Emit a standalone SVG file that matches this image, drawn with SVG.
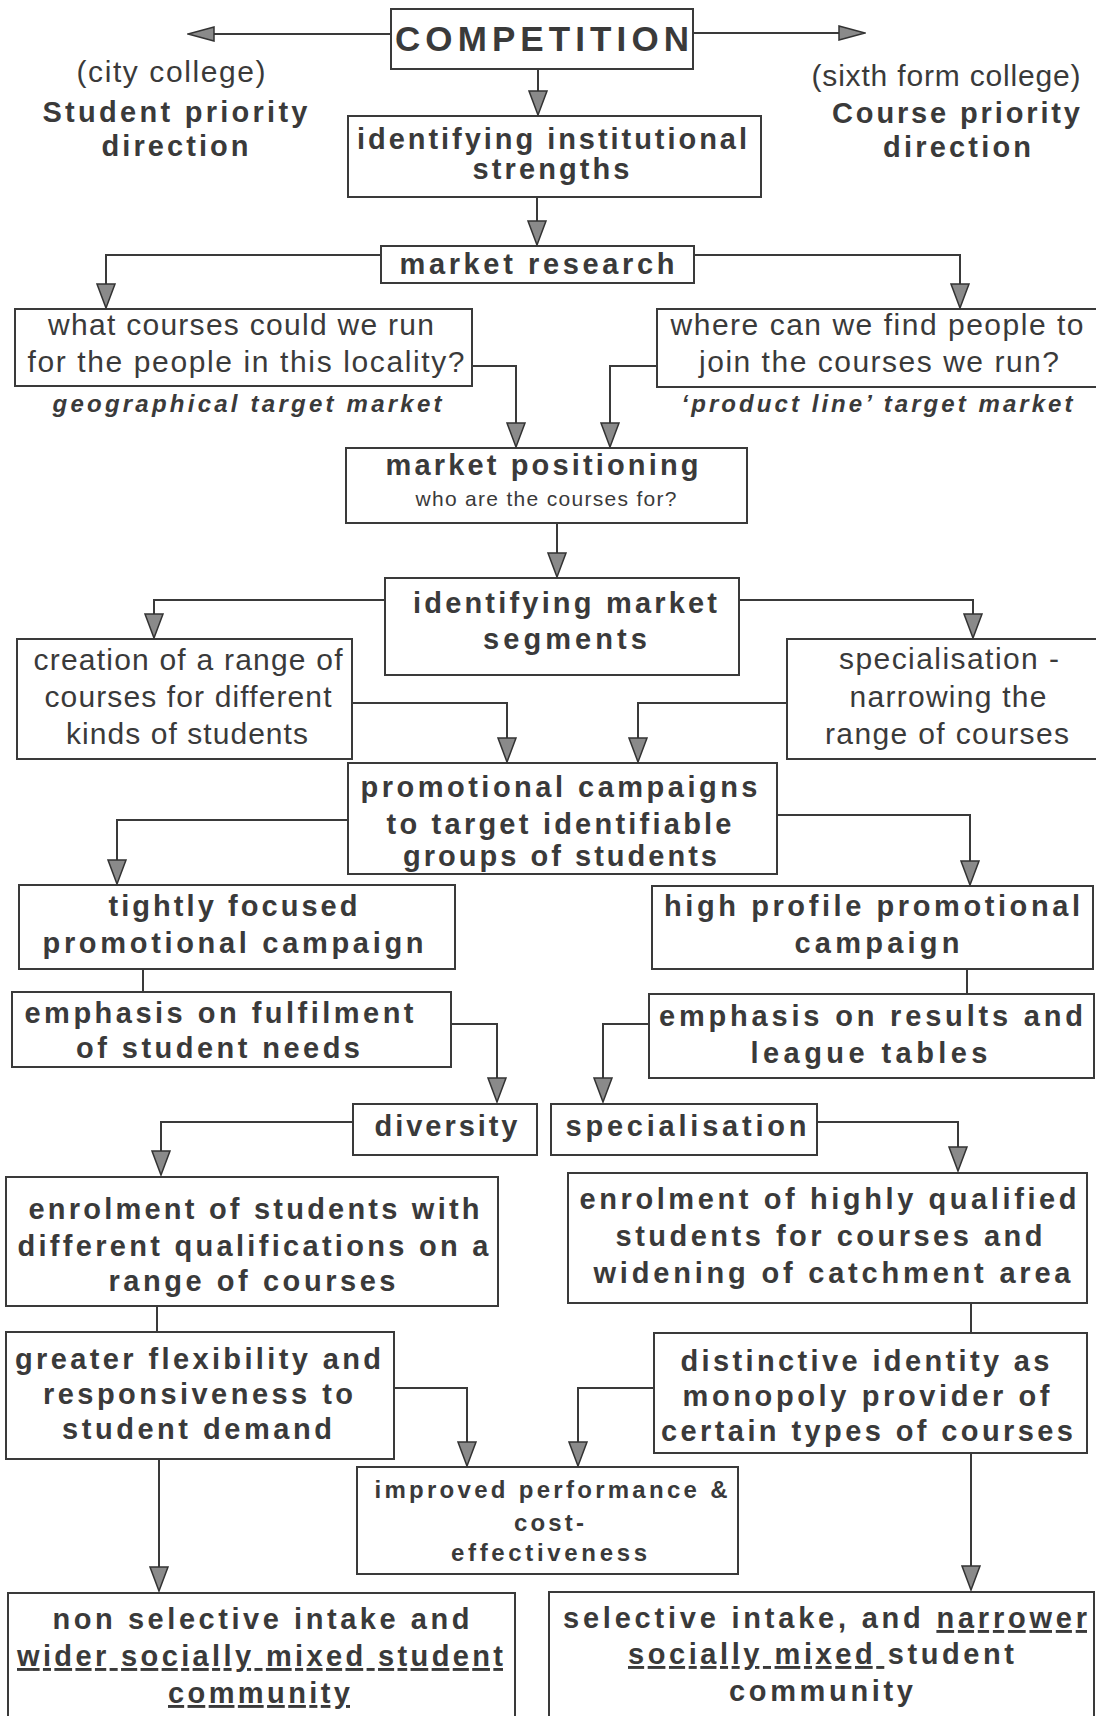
<svg xmlns="http://www.w3.org/2000/svg" width="1096" height="1716" viewBox="0 0 1096 1716">
  <defs>
    <style>
      .box { fill: none; stroke: #3a3a3a; stroke-width: 2; }
      .wire { fill: none; stroke: #3a3a3a; stroke-width: 2; }
      .arr { marker-end: url(#ah); }
      .arrw { marker-end: url(#ahw); }
      text { fill: #3a3a3a; font-family: "Liberation Sans", Arial, sans-serif; text-anchor: middle; }
      .p { font-size: 30px; font-weight: normal; }
      .b { font-size: 29px; font-weight: bold; }
      .bi { font-size: 24px; font-weight: bold; font-style: italic; }
      .s { font-size: 21px; font-weight: normal; }
      .m { font-size: 24px; font-weight: bold; }
      .t { font-size: 35px; font-weight: bold; }
      .u { text-decoration: underline; }
    </style>
    <marker id="ah" viewBox="0 0 26 20" refX="22" refY="10" markerWidth="26" markerHeight="20" markerUnits="userSpaceOnUse" orient="auto">
      <path d="M1,1 L25,10 L1,19 Z" fill="#8a8a8a" stroke="#333" stroke-width="1.5"/>
    </marker>
    <marker id="ahw" viewBox="0 0 28 16" refX="24" refY="8" markerWidth="28" markerHeight="16" markerUnits="userSpaceOnUse" orient="auto">
      <path d="M1,1 L27,8 L1,15 Z" fill="#8a8a8a" stroke="#333" stroke-width="1.5"/>
    </marker>
  </defs>

  <rect width="1096" height="1716" fill="#ffffff"/>

  <!-- side headings -->
  <g id="city-college">
    <text class="p" x="171" y="82" textLength="189" lengthAdjust="spacing">(city college)</text>
    <text class="b" x="175" y="122" textLength="265" lengthAdjust="spacing">Student priority</text>
    <text class="b" x="175" y="156" textLength="147" lengthAdjust="spacing">direction</text>
  </g>
  <g id="sixth-form-college">
    <text class="p" x="946" y="86" textLength="269" lengthAdjust="spacing">(sixth form college)</text>
    <text class="b" x="956" y="123" textLength="248" lengthAdjust="spacing">Course priority</text>
    <text class="b" x="957" y="157" textLength="148" lengthAdjust="spacing">direction</text>
  </g>

  <!-- nodes -->
  <g id="competition">
    <rect class="box" x="391" y="9" width="302" height="60"/>
    <text class="t" x="542" y="51" textLength="294" lengthAdjust="spacing">COMPETITION</text>
  </g>
  <g id="institutional-strengths">
    <rect class="box" x="348" y="116" width="413" height="81"/>
    <text class="b" x="552" y="149" textLength="390" lengthAdjust="spacing">identifying institutional</text>
    <text class="b" x="551" y="179" textLength="157" lengthAdjust="spacing">strengths</text>
  </g>
  <g id="market-research">
    <rect class="box" x="381" y="246" width="313" height="37"/>
    <text class="b" x="537" y="274" textLength="275" lengthAdjust="spacing">market research</text>
  </g>
  <g id="courses-for-locality">
    <rect class="box" x="15" y="309" width="457" height="77"/>
    <text class="p" x="241" y="335" textLength="386" lengthAdjust="spacing">what courses could we run</text>
    <text class="p" x="246" y="372" textLength="437" lengthAdjust="spacing">for the people in this locality?</text>
    <text class="bi" x="247" y="412" textLength="389" lengthAdjust="spacing">geographical target market</text>
  </g>
  <g id="people-for-courses">
    <rect class="box" x="657" y="309" width="445" height="78"/>
    <text class="p" x="877" y="335" textLength="413" lengthAdjust="spacing">where can we find people to</text>
    <text class="p" x="879" y="372" textLength="360" lengthAdjust="spacing">join the courses we run?</text>
    <text class="bi" x="877" y="412" textLength="391" lengthAdjust="spacing">‘product line’ target market</text>
  </g>
  <g id="market-positioning">
    <rect class="box" x="346" y="448" width="401" height="75"/>
    <text class="b" x="542" y="475" textLength="313" lengthAdjust="spacing">market positioning</text>
    <text class="s" x="546" y="506" textLength="261" lengthAdjust="spacing">who are the courses for?</text>
  </g>
  <g id="market-segments">
    <rect class="box" x="385" y="578" width="354" height="97"/>
    <text class="b" x="565" y="613" textLength="304" lengthAdjust="spacing">identifying market</text>
    <text class="b" x="565" y="649" textLength="164" lengthAdjust="spacing">segments</text>
  </g>
  <g id="range-of-courses">
    <rect class="box" x="17" y="639" width="335" height="120"/>
    <text class="p" x="188" y="670" textLength="309" lengthAdjust="spacing">creation of a range of</text>
    <text class="p" x="188" y="707" textLength="287" lengthAdjust="spacing">courses for different</text>
    <text class="p" x="187" y="744" textLength="242" lengthAdjust="spacing">kinds of students</text>
  </g>
  <g id="narrowing-range">
    <rect class="box" x="787" y="639" width="315" height="120"/>
    <text class="p" x="949" y="669" textLength="220" lengthAdjust="spacing">specialisation -</text>
    <text class="p" x="948" y="707" textLength="197" lengthAdjust="spacing">narrowing the</text>
    <text class="p" x="947" y="744" textLength="244" lengthAdjust="spacing">range of courses</text>
  </g>
  <g id="promotional-campaigns">
    <rect class="box" x="348" y="763" width="429" height="111"/>
    <text class="b" x="559" y="797" textLength="397" lengthAdjust="spacing">promotional campaigns</text>
    <text class="b" x="559" y="834" textLength="345" lengthAdjust="spacing">to target identifiable</text>
    <text class="b" x="560" y="866" textLength="314" lengthAdjust="spacing">groups of students</text>
  </g>
  <g id="tightly-focused">
    <rect class="box" x="19" y="885" width="436" height="84"/>
    <text class="b" x="233" y="916" textLength="249" lengthAdjust="spacing">tightly focused</text>
    <text class="b" x="233" y="953" textLength="381" lengthAdjust="spacing">promotional campaign</text>
  </g>
  <g id="high-profile">
    <rect class="box" x="652" y="886" width="441" height="83"/>
    <text class="b" x="872" y="916" textLength="416" lengthAdjust="spacing">high profile promotional</text>
    <text class="b" x="877" y="953" textLength="165" lengthAdjust="spacing">campaign</text>
  </g>
  <g id="student-needs">
    <rect class="box" x="12" y="992" width="439" height="75"/>
    <text class="b" x="219" y="1023" textLength="389" lengthAdjust="spacing">emphasis on fulfilment</text>
    <text class="b" x="218" y="1058" textLength="284" lengthAdjust="spacing">of student needs</text>
  </g>
  <g id="results-league-tables">
    <rect class="box" x="649" y="994" width="445" height="84"/>
    <text class="b" x="871" y="1026" textLength="424" lengthAdjust="spacing">emphasis on results and</text>
    <text class="b" x="869" y="1063" textLength="237" lengthAdjust="spacing">league tables</text>
  </g>
  <g id="diversity">
    <rect class="box" x="353" y="1104" width="184" height="51"/>
    <text class="b" x="446" y="1136" textLength="143" lengthAdjust="spacing">diversity</text>
  </g>
  <g id="specialisation">
    <rect class="box" x="551" y="1104" width="266" height="51"/>
    <text class="b" x="686" y="1136" textLength="241" lengthAdjust="spacing">specialisation</text>
  </g>
  <g id="mixed-enrolment">
    <rect class="box" x="6" y="1177" width="492" height="129"/>
    <text class="b" x="254" y="1219" textLength="451" lengthAdjust="spacing">enrolment of students with</text>
    <text class="b" x="253" y="1256" textLength="471" lengthAdjust="spacing">different qualifications on a</text>
    <text class="b" x="252" y="1291" textLength="287" lengthAdjust="spacing">range of courses</text>
  </g>
  <g id="qualified-enrolment">
    <rect class="box" x="568" y="1173" width="519" height="130"/>
    <text class="b" x="828" y="1209" textLength="497" lengthAdjust="spacing">enrolment of highly qualified</text>
    <text class="b" x="829" y="1246" textLength="427" lengthAdjust="spacing">students for courses and</text>
    <text class="b" x="832" y="1283" textLength="477" lengthAdjust="spacing">widening of catchment area</text>
  </g>
  <g id="flexibility">
    <rect class="box" x="6" y="1332" width="388" height="127"/>
    <text class="b" x="198" y="1369" textLength="366" lengthAdjust="spacing">greater flexibility and</text>
    <text class="b" x="198" y="1404" textLength="310" lengthAdjust="spacing">responsiveness to</text>
    <text class="b" x="197" y="1439" textLength="270" lengthAdjust="spacing">student demand</text>
  </g>
  <g id="distinctive-identity">
    <rect class="box" x="654" y="1333" width="433" height="120"/>
    <text class="b" x="865" y="1371" textLength="369" lengthAdjust="spacing">distinctive identity as</text>
    <text class="b" x="866" y="1406" textLength="367" lengthAdjust="spacing">monopoly provider of</text>
    <text class="b" x="867" y="1441" textLength="412" lengthAdjust="spacing">certain types of courses</text>
  </g>
  <g id="performance">
    <rect class="box" x="357" y="1467" width="381" height="107"/>
    <text class="m" x="551" y="1498" textLength="353" lengthAdjust="spacing">improved performance &amp;</text>
    <text class="m" x="549" y="1531" textLength="70" lengthAdjust="spacing">cost-</text>
    <text class="m" x="549" y="1561" textLength="196" lengthAdjust="spacing">effectiveness</text>
  </g>
  <g id="non-selective-intake">
    <rect class="box" x="8" y="1593" width="507" height="140"/>
    <text class="b" x="261" y="1629" textLength="417" lengthAdjust="spacing">non selective intake and</text>
    <text class="b u" x="260" y="1666" textLength="486" lengthAdjust="spacing">wider socially mixed student</text>
    <text class="b u" x="259" y="1703" textLength="182" lengthAdjust="spacing">community</text>
  </g>
  <g id="selective-intake">
    <rect class="box" x="549" y="1592" width="545" height="140"/>
    <text class="b" x="825" y="1628" textLength="524" lengthAdjust="spacing">selective intake, and <tspan class="u">narrower</tspan></text>
    <text class="b" x="821" y="1664" textLength="386" lengthAdjust="spacing"><tspan class="u">socially mixed </tspan>student</text>
    <text class="b" x="821" y="1701" textLength="184" lengthAdjust="spacing">community</text>
  </g>

  <!-- connectors -->
  <g id="connectors">
    <path class="wire arrw" d="M391,34 H191"/>
    <path class="wire arrw" d="M693,33 H862"/>
    <path class="wire arr" d="M538,69 V112"/>
    <path class="wire arr" d="M537,197 V242"/>
    <path class="wire arr" d="M381,255 H106 V305"/>
    <path class="wire arr" d="M694,255 H960 V305"/>
    <path class="wire arr" d="M472,366 H516 V444"/>
    <path class="wire arr" d="M657,366 H610 V444"/>
    <path class="wire arr" d="M557,523 V574"/>
    <path class="wire arr" d="M385,600 H154 V635"/>
    <path class="wire arr" d="M739,600 H973 V635"/>
    <path class="wire arr" d="M352,703 H507 V759"/>
    <path class="wire arr" d="M787,703 H638 V759"/>
    <path class="wire arr" d="M348,820 H117 V881"/>
    <path class="wire arr" d="M777,815 H970 V882"/>
    <path class="wire" d="M143,969 V992"/>
    <path class="wire" d="M967,969 V994"/>
    <path class="wire arr" d="M451,1024 H497 V1099"/>
    <path class="wire arr" d="M649,1024 H603 V1099"/>
    <path class="wire arr" d="M353,1122 H161 V1172"/>
    <path class="wire arr" d="M817,1122 H958 V1168"/>
    <path class="wire" d="M157,1306 V1332"/>
    <path class="wire" d="M971,1303 V1333"/>
    <path class="wire arr" d="M394,1388 H467 V1463"/>
    <path class="wire arr" d="M654,1388 H578 V1463"/>
    <path class="wire arr" d="M159,1459 V1588"/>
    <path class="wire arr" d="M971,1453 V1587"/>
  </g>
</svg>
